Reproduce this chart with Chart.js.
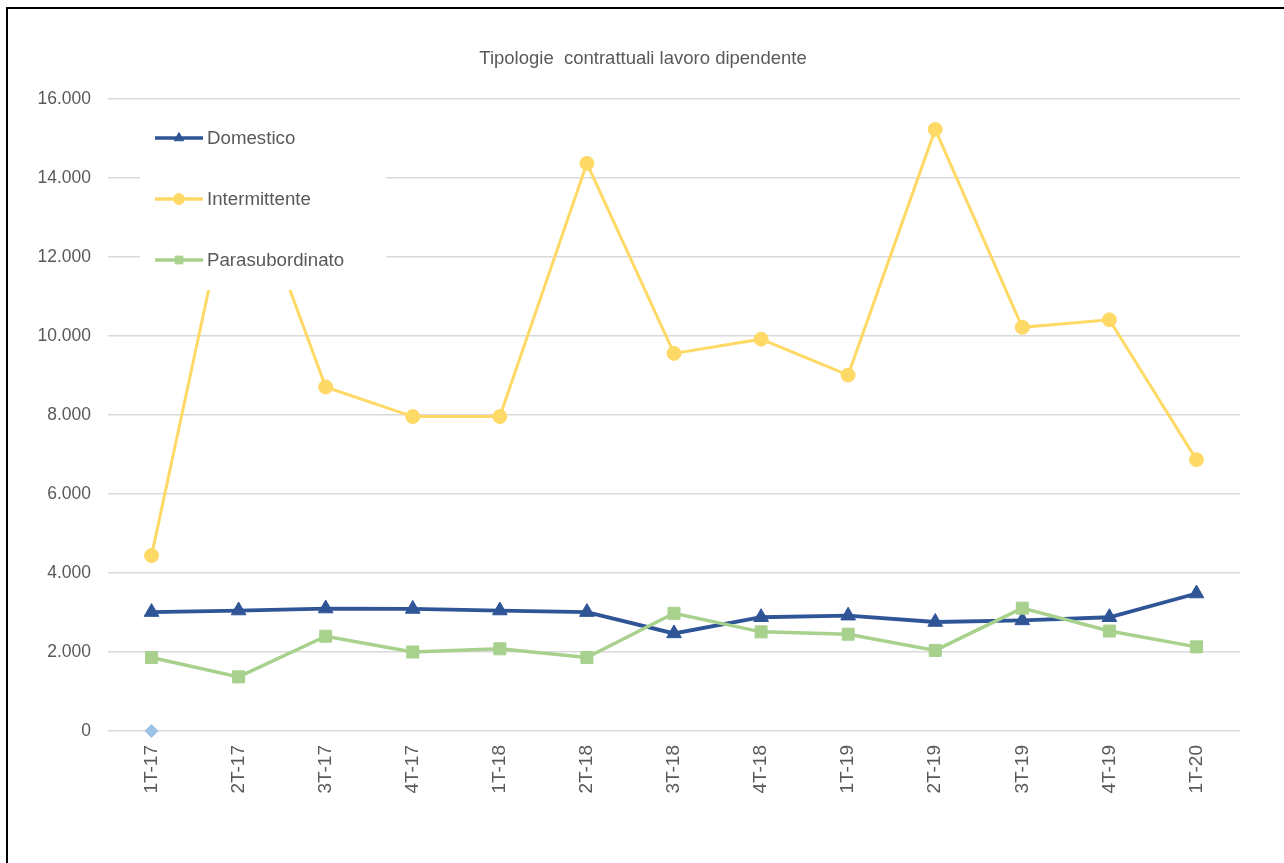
<!DOCTYPE html>
<html>
<head>
<meta charset="utf-8">
<script src="https://cdn.jsdelivr.net/npm/chart.js@4.4.1/dist/chart.umd.min.js"></script>
<style>
  html, body { margin: 0; padding: 0; background: #ffffff; width: 1284px; height: 863px; overflow: hidden; }
  #frame { position: absolute; left: 6px; top: 7px; width: 1300px; height: 900px; border: 2px solid #000; box-sizing: border-box; }
  #wrap { position: absolute; left: 0; top: 0; width: 1284px; height: 863px; }
</style>
</head>
<body>
<div id="frame"></div>
<div id="wrap"><canvas id="c" width="1284" height="863"></canvas></div>
<script>
const categories = ['1T-17','2T-17','3T-17','4T-17','1T-18','2T-18','3T-18','4T-18','1T-19','2T-19','3T-19','4T-19','1T-20'];
const domestico = [3010, 3050, 3100, 3090, 3050, 3010, 2470, 2880, 2920, 2760, 2800, 2880, 3480];
const intermittente = [4440, 14700, 8710, 7960, 7960, 14370, 9560, 9920, 9010, 15230, 10220, 10410, 6870];
const parasubordinato = [1860, 1370, 2400, 2000, 2080, 1860, 2980, 2510, 2450, 2040, 3110, 2530, 2130];
const altro = [0, null, null, null, null, null, null, null, null, null, null, null, null];
const seriesNames = ['Domestico', 'Intermittente', 'Parasubordinato'];
const chartTitle = 'Tipologie  contrattuali lavoro dipendente';
const yTicks = [0, 2000, 4000, 6000, 8000, 10000, 12000, 14000, 16000];

const TXT = '#595959';
const FONT = '"Liberation Sans", Arial, sans-serif';

function fmt(v) {
  return String(v).replace(/\B(?=(\d{3})+(?!\d))/g, '.');
}

const decorPlugin = {
  id: 'decor',
  afterDatasetsDraw(chart) {
    const ctx = chart.ctx;
    ctx.save();
    // title
    ctx.fillStyle = TXT;
    ctx.font = '18.5px ' + FONT;
    ctx.textAlign = 'center';
    ctx.textBaseline = 'middle';
    ctx.fillText(chartTitle, 643, 59);
    // legend inside plot area
    ctx.fillStyle = '#ffffff';
    ctx.fillRect(140, 110, 246, 180);
    const rows = [138, 199, 260];
    chart.data.datasets.forEach((ds, i) => {
      if (i >= 3) return;
      const y = rows[i];
      ctx.strokeStyle = ds.borderColor;
      ctx.lineWidth = 3.5;
      ctx.beginPath();
      ctx.moveTo(155, y);
      ctx.lineTo(203, y);
      ctx.stroke();
      ctx.fillStyle = ds.backgroundColor;
      ctx.strokeStyle = ds.borderColor;
      ctx.lineWidth = 1;
      Chart.helpers.drawPoint(ctx, { pointStyle: ds.pointStyle, radius: 5.5, borderWidth: 1, rotation: 0 }, 179, y);
      ctx.fillStyle = TXT;
      ctx.font = '18.7px ' + FONT;
      ctx.textBaseline = 'middle';
      ctx.textAlign = 'left';
      ctx.fillText(ds.label, 207, y + 1);
    });
    ctx.restore();
  }
};

new Chart(document.getElementById('c'), {
  type: 'line',
  data: {
    labels: categories,
    datasets: [
      { label: seriesNames[0], data: domestico, borderColor: '#2F5597', backgroundColor: '#2F5597', borderWidth: 3.8,
        pointStyle: 'triangle', pointRadius: 8.5, pointBorderWidth: 1, order: 3, tension: 0 },
      { label: seriesNames[1], data: intermittente, borderColor: '#FFD966', backgroundColor: '#FFD966', borderWidth: 3,
        pointStyle: 'circle', pointRadius: 7, pointBorderWidth: 1, order: 2, tension: 0 },
      { label: seriesNames[2], data: parasubordinato, borderColor: '#A9D18E', backgroundColor: '#A9D18E', borderWidth: 3.5,
        pointStyle: 'rect', pointRadius: 8.5, pointBorderWidth: 1, order: 1, tension: 0 },
      { label: '', data: altro, borderColor: '#9DC3E6', backgroundColor: '#9DC3E6', borderWidth: 2,
        pointStyle: 'rectRot', pointRadius: 6.5, pointBorderWidth: 1, order: 0, showLine: false, clip: false }
    ]
  },
  options: {
    responsive: false,
    animation: false,
    devicePixelRatio: 1,
    layout: { padding: { left: 0, right: 44, top: 99, bottom: 0 } },
    plugins: {
      legend: { display: false },
      tooltip: { enabled: false },
      title: { display: false }
    },
    scales: {
      x: {
        offset: true,
        grid: { display: false, drawTicks: false },
        border: { display: false },
        ticks: {
          color: TXT, font: { family: FONT, size: 19 },
          minRotation: 90, maxRotation: 90, padding: 14, autoSkip: false
        },
        afterFit(scale) { scale.height = 132; }
      },
      y: {
        min: 0, max: 16000,
        afterBuildTicks(scale) { scale.ticks = yTicks.map(v => ({ value: v })); },
        grid: { color: '#D9D9D9', lineWidth: 1.5, drawTicks: false },
        border: { display: false },
        ticks: {
          color: TXT, font: { family: FONT, size: 17.5 }, padding: 17,
          callback: (v) => fmt(v)
        },
        afterFit(scale) { scale.width = 108; }
      }
    }
  },
  plugins: [decorPlugin]
});
</script>
</body>
</html>
